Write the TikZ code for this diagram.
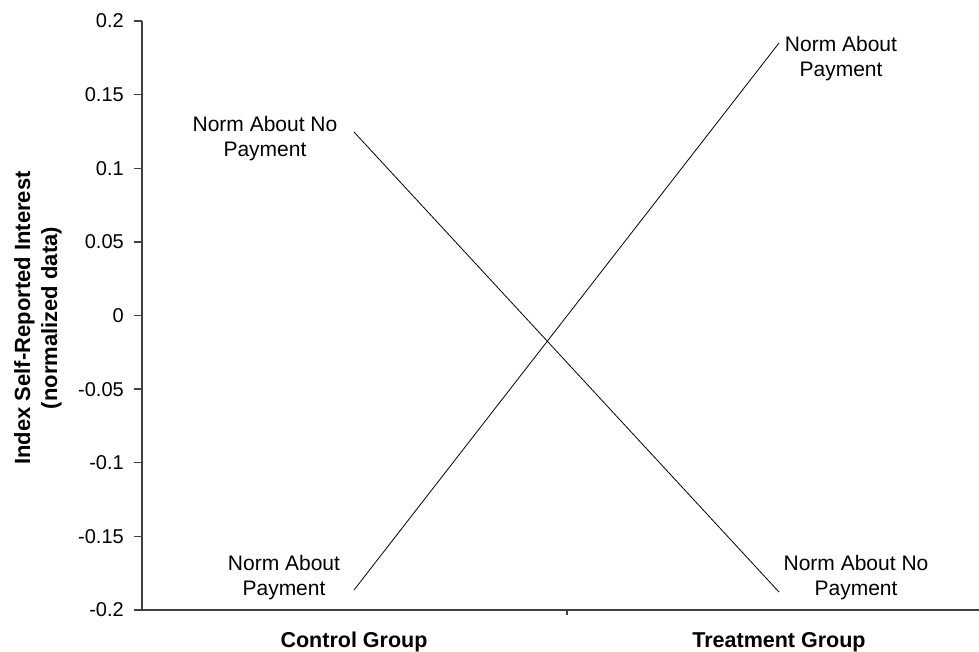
\documentclass[tikz,border=0pt]{standalone}
\usepackage{fontspec}
\setmainfont{Liberation Sans}
\usetikzlibrary{positioning,calc}

\begin{document}
\begin{tikzpicture}[x=1pt,y=-1pt,
    axisline/.style={draw=black!75,line width=1.3pt},
    dataline/.style={draw=black,line width=0.8pt},
    lbl/.style={font=\fontsize{21}{25}\selectfont,align=center,inner sep=0pt},
    ticklbl/.style={font=\fontsize{20}{24}\selectfont,anchor=east,inner sep=0pt},
    axtitle/.style={font=\bfseries\fontsize{21.5}{27}\selectfont,align=center,inner sep=0pt}]
	\useasboundingbox (0,0) rectangle (979,651);
	\coordinate (origin) at (142,610);
	\coordinate (ytop) at (142,21);
	\coordinate (xend) at (979,610);
	\coordinate (xmid) at (567,610);
	\draw[axisline] (ytop) -- (origin) -- (xend);
	\draw[axisline] (xmid) -- ++(0,5);
	\foreach \v [count=\i from 0] in {0.2,0.15,0.1,0.05,0,-0.05,-0.1,-0.15,-0.2} {
		\coordinate (tick\i) at (142,{21+\i*73.625});
		\draw[axisline] (tick\i) -- ++(-8,0);
		\node[ticklbl] (tl\i) at ($(tick\i)+(-18,0)$) {\v};
	}
	
	\coordinate (ctrlNo) at (354,132);
	\coordinate (trtNo) at (779,592);
	\coordinate (ctrlPay) at (354,590);
	\coordinate (trtPay) at (779,43);
	\draw[dataline] (ctrlNo) -- (trtNo);
	\draw[dataline] (ctrlPay) -- (trtPay);
	
	\node[lbl] (ctrlNoLbl) at (265,139) {Norm About No\\Payment};
	\node[lbl] (trtPayLbl) at (841,59) {Norm About\\Payment};
	\node[lbl] (ctrlPayLbl) at (284,578) {Norm About\\Payment};
	\node[lbl] (trtNoLbl) at (856,578) {Norm About No\\Payment};
	
	\node[axtitle] (ctrlGrp) at (354,642) {Control Group};
	\node[axtitle] (trtGrp) at (779,642) {Treatment Group};
	\node[axtitle,font=\bfseries\fontsize{22}{27}\selectfont,rotate=90] (ytitle) at (38,318) {Index Self-Reported Interest\\(normalized data)};
\end{tikzpicture}
\end{document}
